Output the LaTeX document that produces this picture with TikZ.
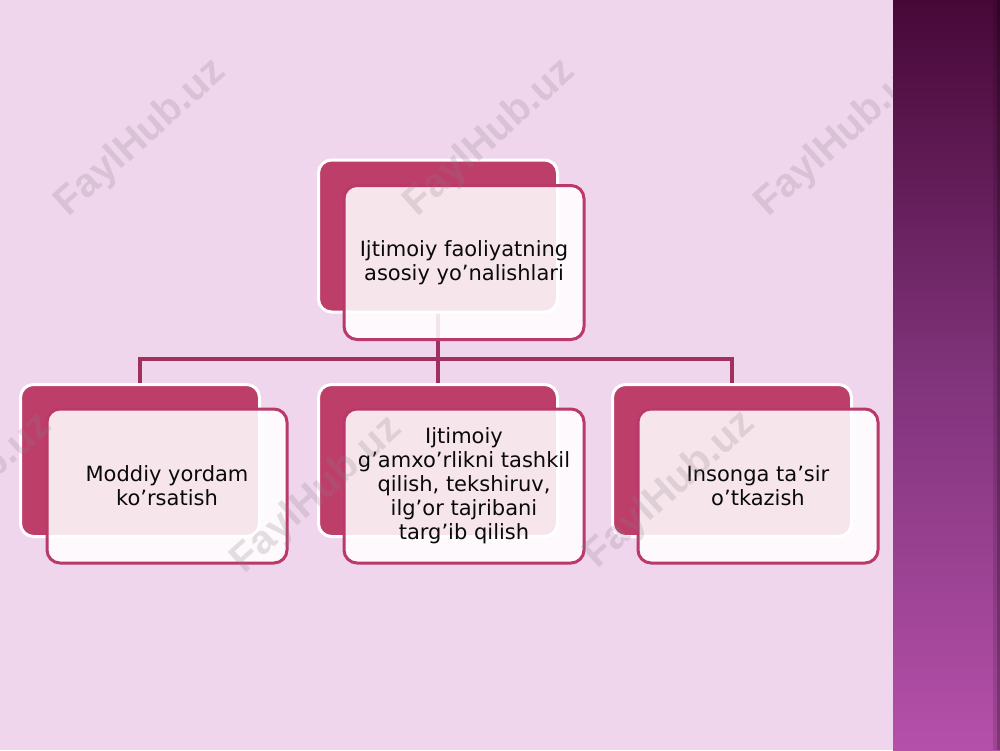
\documentclass[tikz,border=0pt]{standalone}
\usepackage{fontspec}
\setmainfont{DejaVu Sans}
\newfontfamily\wmfont{Liberation Sans}
\definecolor{bgpink}{HTML}{F0D6EC}
\definecolor{mag}{HTML}{BE3E6A}
\definecolor{magb}{HTML}{BA386A}
\definecolor{conn}{HTML}{A0305E}
\definecolor{bandtop}{HTML}{470838}
\definecolor{bandmid}{HTML}{80337A}
\definecolor{bandbot}{HTML}{B550AA}
\definecolor{txt}{HTML}{0A0A0A}
\definecolor{wmgray}{HTML}{8A7A88}
\tikzset{
  backbox/.style={draw=white, line width=3pt, fill=mag, rounded corners=13pt,
    minimum width=239pt, minimum height=152pt, inner sep=0pt, outer sep=0pt},
  frontbox/.style={draw=magb, line width=3pt, fill=white, fill opacity=0.87, draw opacity=1,
    text opacity=1, rounded corners=13pt, minimum width=240pt, minimum height=154pt,
    inner sep=0pt, outer sep=0pt, text=txt, align=center,
    font=\fontsize{21}{24}\selectfont},
  connector/.style={draw=conn, line width=3.5pt},
  wm/.style={text=wmgray, opacity=0.22, rotate=42,
    font=\wmfont\bfseries\fontsize{40}{40}\selectfont}
}
\begin{document}
\begin{tikzpicture}[x=1pt,y=-1pt]
\useasboundingbox (0,0) rectangle (1000,750);
\fill[bgpink] (0,0) rectangle (1000,750);

% connectors (behind boxes)
\coordinate (bus) at (438,359);
\node[backbox, draw=none, fill=none] (tbp) at (438,236) {};
\node[backbox, draw=none, fill=none] (lbp) at (140,460.5) {};
\node[backbox, draw=none, fill=none] (mbp) at (438,460.5) {};
\node[backbox, draw=none, fill=none] (rbp) at (732,460.5) {};
\draw[connector] (tbp.south) -- (mbp.north);
\draw[connector] (lbp.north) |- (bus) -| (rbp.north);

% top
\node[backbox] (tb) at (438,236) {};
\node[frontbox] (tf) at (464,262.5) {Ijtimoiy faoliyatning\\asosiy yo’nalishlari};
% left
\node[backbox] (lb) at (140,460.5) {};
\node[frontbox] (lf) at (167,486) {Moddiy yordam\\ko’rsatish};
% middle
\node[backbox] (mb) at (438,460.5) {};
\node[frontbox] (mf) at (464,486) {Ijtimoiy\\g’amxo’rlikni tashkil\\qilish, tekshiruv,\\ilg’or tajribani\\targ’ib qilish};
% right
\node[backbox] (rb) at (732,460.5) {};
\node[frontbox] (rf) at (758,486) {Insonga ta’sir\\o’tkazish};

% watermarks
\node[wm] (w1) at (141,138) {FaylHub.uz};
\node[wm] (w2) at (490,138) {FaylHub.uz};
\node[wm] (w3) at (841,138) {FaylHub.uz};
\node[wm] (w4) at (-33,492) {FaylHub.uz};
\node[wm] (w5) at (317,495) {FaylHub.uz};
\node[wm] (w6) at (670,490) {FaylHub.uz};

% right band
\shade[top color=bandtop, bottom color=bandbot, middle color=bandmid] (893,0) rectangle (1000,750);
\fill[black, opacity=0.12] (993,0) rectangle (1000,750);
\fill[black, opacity=0.2] (997,0) rectangle (1000,750);
\end{tikzpicture}
\end{document}
